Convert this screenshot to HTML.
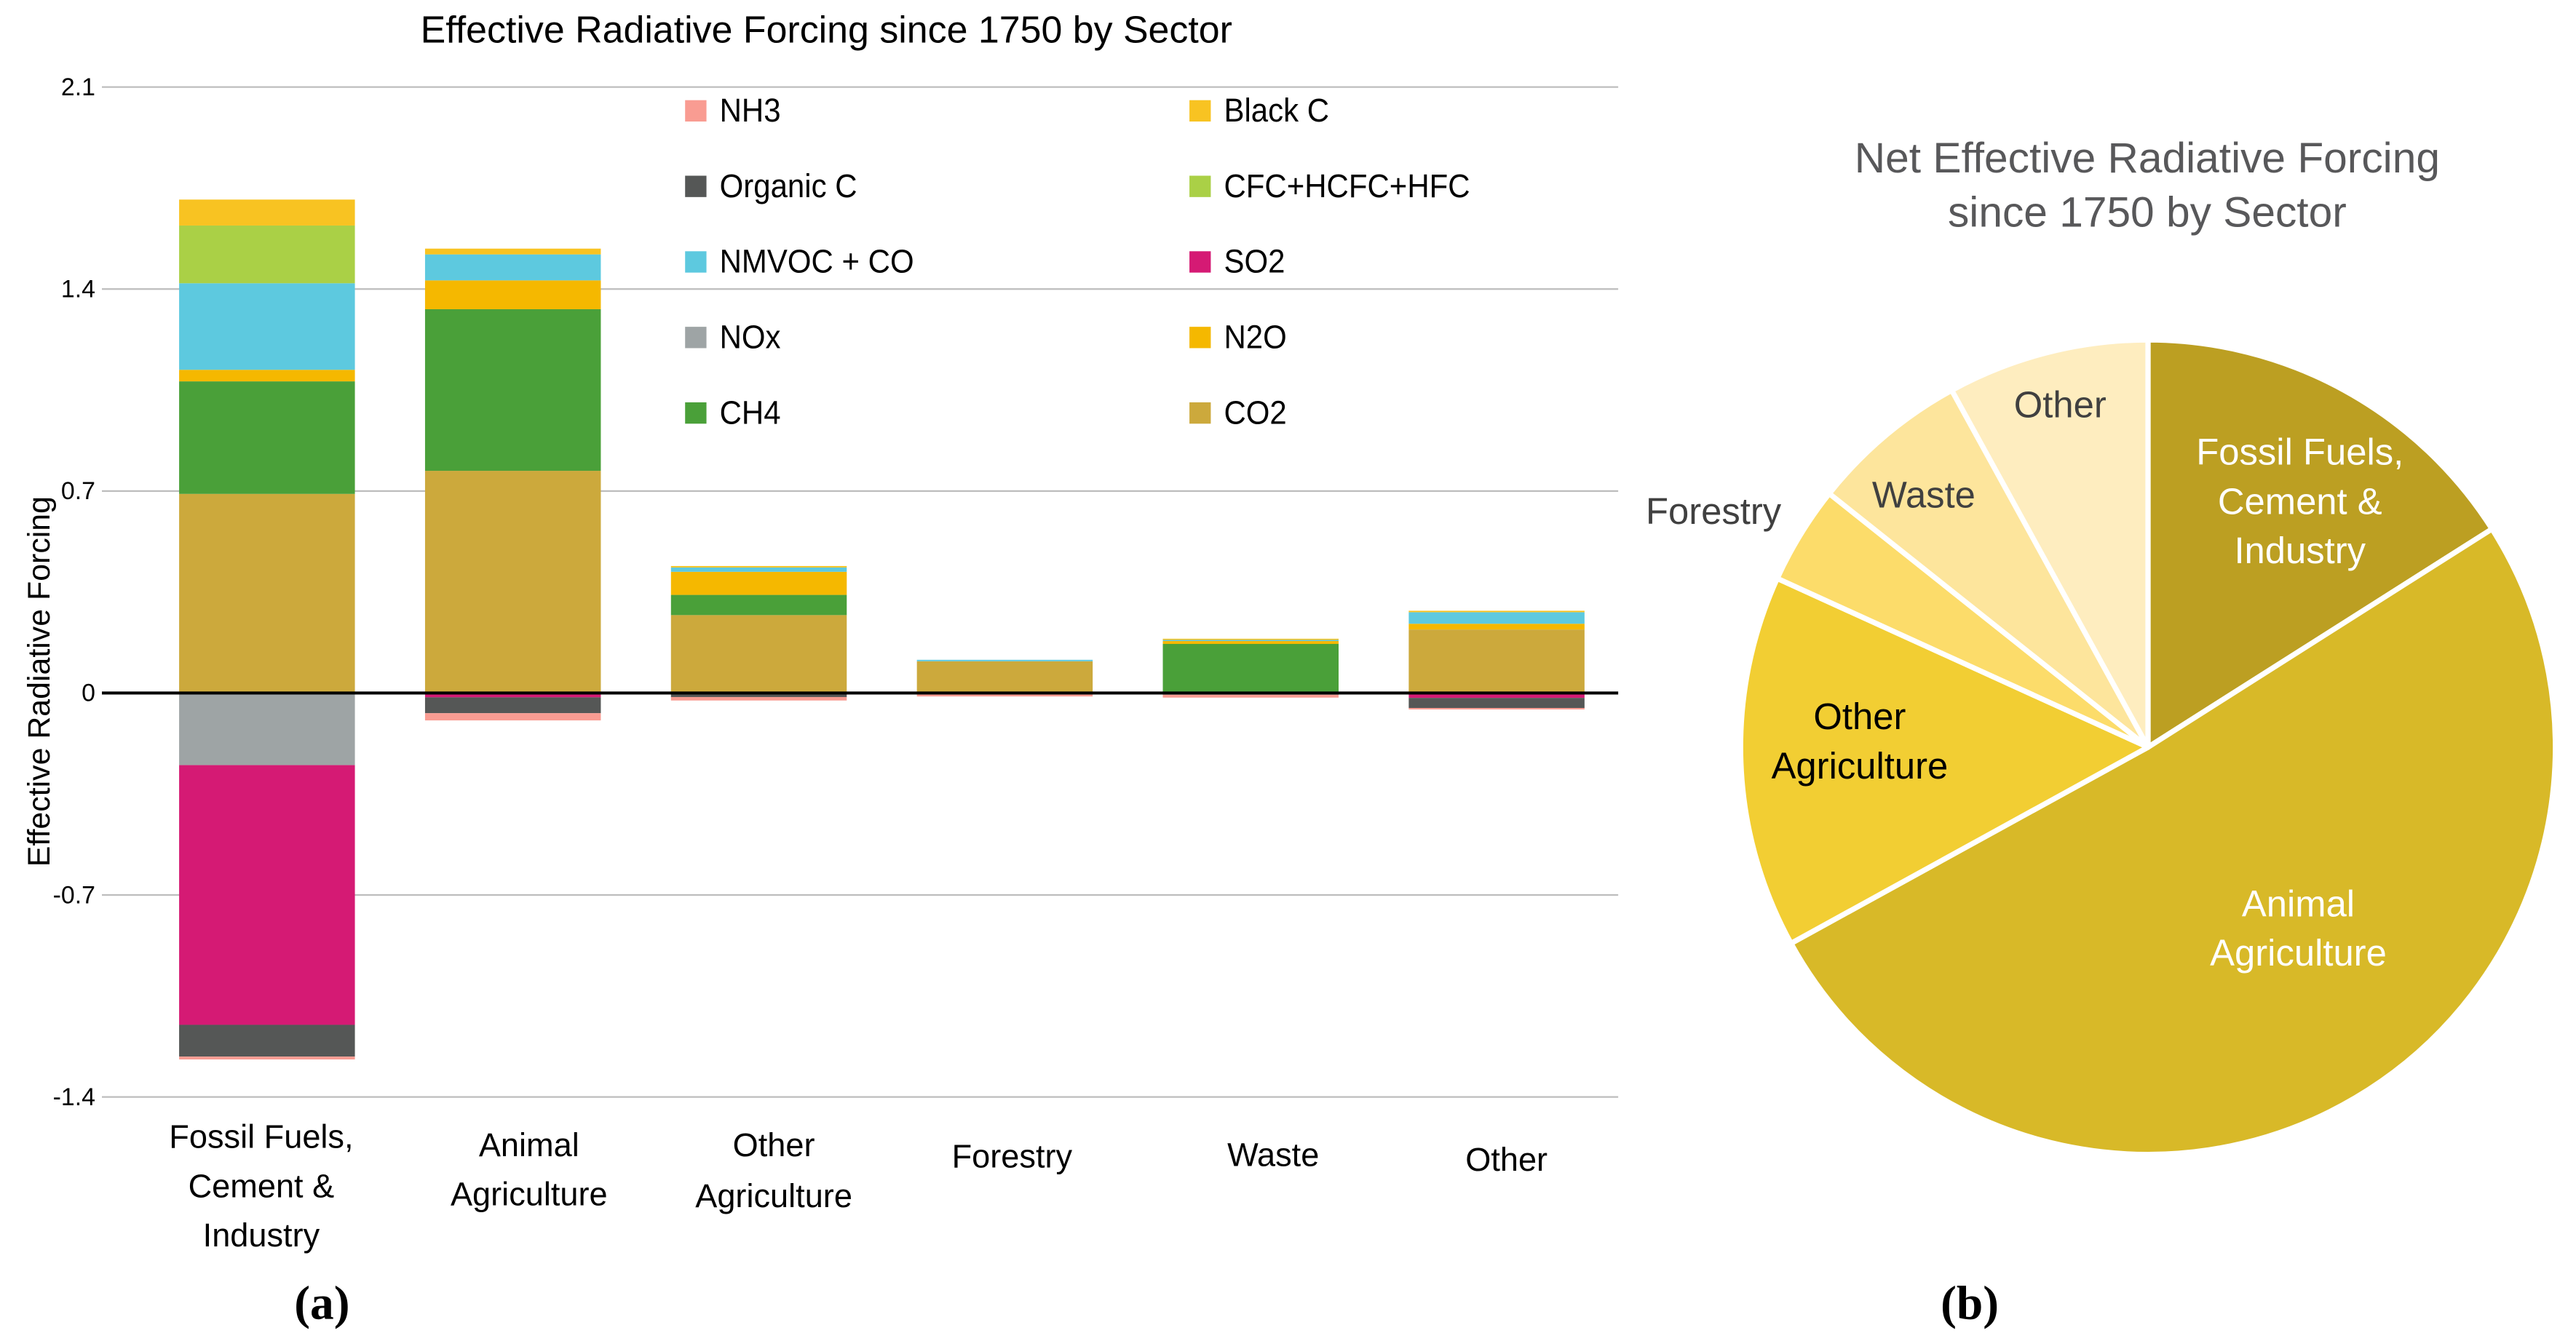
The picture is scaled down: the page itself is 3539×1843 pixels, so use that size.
<!DOCTYPE html>
<html><head><meta charset="utf-8">
<style>
html,body{margin:0;padding:0;background:#fff;}
svg{display:block;}
</style></head>
<body>
<svg id="root" xmlns="http://www.w3.org/2000/svg" width="3539" height="1843" viewBox="0 0 1568 816.6">
<g id="barchart"></g>
<g id="piechart"></g>
</svg>
<script>
// ---------- Bar chart data ----------
const categories = [["Fossil Fuels,","Cement &","Industry"],["Animal","Agriculture"],["Other","Agriculture"],["Forestry"],["Waste"],["Other"]];
const labelX = [159, 322, 471, 616, 775, 917];
const labelY = [[692,722,752],[697,727],[697,728],[704],[703],[706]];
const posSeries = ["CO2","CH4","N2O","NMVOC + CO","CFC+HCFC+HFC","Black C"];
const negSeries = ["NOx","SO2","Organic C","NH3"];
const CO2   = [0.69, 0.77, 0.27, 0.11, 0.0, 0.22];
const CH4   = [0.39, 0.56, 0.07, 0.0, 0.17, 0.0];
const N2O   = [0.04, 0.10, 0.08, 0.0, 0.01, 0.02];
const NMVOC = [0.30, 0.09, 0.015, 0.005, 0.004, 0.04];
const CFC   = [0.20, 0.0, 0.0, 0.0, 0.0, 0.0];
const BlackC= [0.09, 0.02, 0.005, 0.0, 0.004, 0.005];
const NOx   = [-0.25, -0.005, 0.0, 0.0, 0.0, 0.0];
const SO2   = [-0.90, -0.01, -0.002, 0.0, -0.002, -0.017];
const OrgC  = [-0.11, -0.055, -0.012, -0.002, -0.004, -0.035];
const NH3   = [-0.01, -0.025, -0.012, -0.01, -0.01, -0.005];
const yTicks = [2.1, 1.4, 0.7, 0, -0.7, -1.4];
const yTickLabels = ["2.1","1.4","0.7","0","-0.7","-1.4"];
const legendLeft = ["NH3","Organic C","NMVOC + CO","NOx","CH4"];
const legendRight = ["Black C","CFC+HCFC+HFC","SO2","N2O","CO2"];
// ---------- Pie data ----------
const pieLabels = ["Fossil Fuels, Cement & Industry","Animal Agriculture","Other Agriculture","Forestry","Waste","Other"];
const pieValues = [0.16, 0.51, 0.148, 0.039, 0.063, 0.08];

const colors = {"NH3":"#F99C92","Black C":"#F8C322","Organic C":"#555756","CFC+HCFC+HFC":"#AAD046","NMVOC + CO":"#5DC9DF","SO2":"#D51A74","NOx":"#9EA4A5","N2O":"#F5B800","CH4":"#4AA039","CO2":"#CCA93C"};
const posData = [CO2, CH4, N2O, NMVOC, CFC, BlackC];
const negData = [NOx, SO2, OrgC, NH3];

const NS = "http://www.w3.org/2000/svg";
function mk(tag, attrs, parent){const e=document.createElementNS(NS,tag);for(const k in attrs)e.setAttribute(k,attrs[k]);parent.appendChild(e);return e;}
const bc = document.getElementById("barchart");
const y0 = 422, unitPx = 123/0.7;
function yScale(v){return y0 - v*unitPx;}
function xCenter(i){return 162.5 + i*149.7;}
const barW = 107;
const FONT = "Liberation Sans, sans-serif";

// title
let t = mk("text",{x:503,y:26,"text-anchor":"middle","font-family":FONT,"font-size":23,"font-stretch":"condensed",fill:"#000"},bc);
t.textContent="Effective Radiative Forcing since 1750 by Sector";



// grid + ticks
yTicks.forEach((v,i)=>{
  if(v!==0){
    const g = mk("line",{x1:62,x2:985,y1:yScale(v),y2:yScale(v),stroke:"#BDBDBD","stroke-width":1},bc);
    
    
  }
  const tl = mk("text",{x:58,y:yScale(v)+5,"text-anchor":"end","font-family":FONT,"font-size":15,fill:"#000"},bc);
  tl.textContent = yTickLabels[i];
  
  
});
// axis title
const at = mk("text",{x:0,y:0,transform:"translate(30,415) rotate(-90)","text-anchor":"middle","font-family":FONT,"font-size":19,fill:"#000"},bc);
at.textContent="Effective Radiative Forcing";



// bars
categories.forEach((cat,i)=>{
  let acc=0;
  posData.forEach((arr,s)=>{
    const v=arr[i]; if(v<=0) return;
    const r=mk("rect",{x:xCenter(i)-barW/2,y:yScale(acc+v),width:barW,height:v*unitPx,fill:colors[posSeries[s]]},bc);
    
    
    acc+=v;
  });
  acc=0;
  negData.forEach((arr,s)=>{
    const v=arr[i]; if(v>=0) return;
    const r=mk("rect",{x:xCenter(i)-barW/2,y:yScale(acc),width:barW,height:-v*unitPx,fill:colors[negSeries[s]]},bc);
    
    
    acc+=v;
  });
  cat.forEach((line,k)=>{
    const xl=mk("text",{x:labelX[i],y:labelY[i][k]+7,"text-anchor":"middle","font-family":FONT,"font-size":20,"font-stretch":"condensed",fill:"#000"},bc);
    xl.textContent=line;
    
    
  });
});
// zero line
const zl=mk("line",{x1:62,x2:985,y1:y0,y2:y0,stroke:"#000","stroke-width":1.8},bc);



// legend
function legend(names,x){
  names.forEach((n,k)=>{
    const yy=67+k*46;
    const g=mk("g",{},bc);
    
    
    mk("rect",{x:x-7,y:yy-6,width:13,height:13,fill:colors[n]},g);
    const tx=mk("text",{x:0,y:0,transform:`translate(${x+14},${yy+7}) scale(0.93,1)`,"font-family":FONT,"font-size":20,fill:"#000"},g);
    tx.textContent=n;
  });
}
legend(legendLeft,424);
legend(legendRight,731);

const la=mk("text",{x:196,y:803,"text-anchor":"middle","font-family":"Liberation Serif, serif","font-weight":"bold","font-size":29,fill:"#000"},bc);
la.textContent="(a)";



// ---------- Pie ----------
const pc=document.getElementById("piechart");
const cx=1307.5, cy=455, R=248;
const pieColors=["#BC9F22","#D8B928","#F2CE33","#FCDC6A","#FDE59C","#FEEDBF"];
const total=pieValues.reduce((a,b)=>a+b,0);
function pt(a,r){return [cx+r*Math.sin(a), cy-r*Math.cos(a)];}
let ang=0;
pieValues.forEach((v,i)=>{
  const a2=ang+v/total*2*Math.PI;
  const p1=pt(ang,R), p2=pt(a2,R);
  const large=(a2-ang)>Math.PI?1:0;
  const p=mk("path",{d:`M${cx},${cy} L${p1[0]},${p1[1]} A${R},${R} 0 ${large} 1 ${p2[0]},${p2[1]} Z`,fill:pieColors[i],stroke:"#fff","stroke-width":3.2,"stroke-linejoin":"round"},pc);
  
  
  ang=a2;
});
const pt1=mk("text",{x:1307,y:105,"text-anchor":"middle","font-family":FONT,"font-size":26,fill:"#58585A"},pc);
pt1.textContent="Net Effective Radiative Forcing";


const pt2=mk("text",{x:1307,y:138,"text-anchor":"middle","font-family":FONT,"font-size":26,fill:"#58585A"},pc);
pt2.textContent="since 1750 by Sector";



const pieText=[
 [["Fossil Fuels,","Cement &","Industry"],1400,[275,305,335],"#fff"],
 [["Animal","Agriculture"],1399,[550,580],"#fff"],
 [["Other","Agriculture"],1132,[436,466],"#000"],
 [["Forestry"],1043,[311],"#404040"],
 [["Waste"],1171,[301],"#404040"],
 [["Other"],1254,[246],"#404040"]
];
pieText.forEach(([lines,x,ys,c])=>{
  lines.forEach((l,k)=>{
    const e=mk("text",{x:x,y:ys[k]+8,"text-anchor":"middle","font-family":FONT,"font-size":22.5,fill:c},pc);
    e.textContent=l;
    
    
  });
});
const lb=mk("text",{x:1199,y:803,"text-anchor":"middle","font-family":"Liberation Serif, serif","font-weight":"bold","font-size":29,fill:"#000"},pc);
lb.textContent="(b)";


</script>
</body></html>
